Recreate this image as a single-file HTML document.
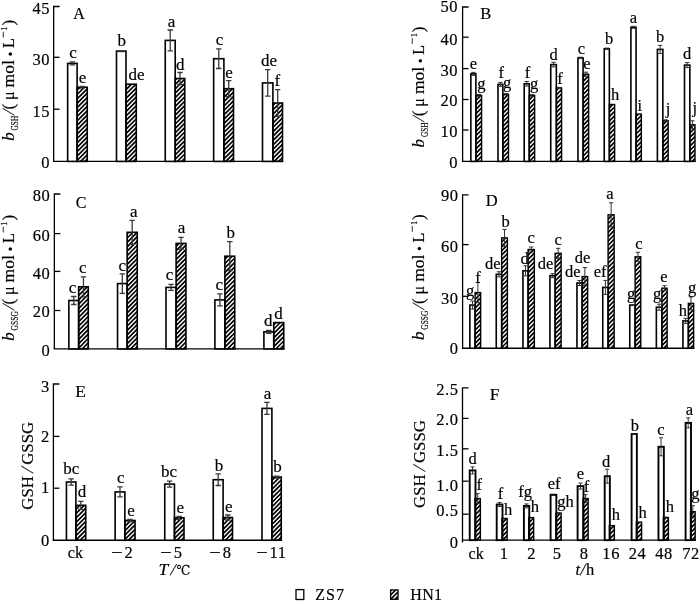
<!DOCTYPE html>
<html><head><meta charset="utf-8"><title>Figure</title>
<style>
html,body{margin:0;padding:0;background:#fff;}
svg{display:block;}
text{font-family:"Liberation Serif", "Noto Serif CJK SC", serif;fill:#000;stroke:#000;stroke-width:0.18px;}
</style></head>
<body>
<svg width="700" height="601" viewBox="0 0 700 601">
<defs><clipPath id="hc"><rect x="77.10" y="87.25" width="10.15" height="74.15"/><rect x="126.00" y="84.20" width="10.25" height="77.20"/><rect x="175.20" y="78.50" width="9.55" height="82.90"/><rect x="223.90" y="88.70" width="9.60" height="72.70"/><rect x="272.90" y="103.00" width="9.60" height="58.40"/><rect x="78.65" y="286.80" width="9.60" height="62.10"/><rect x="127.15" y="232.30" width="10.10" height="116.60"/><rect x="176.10" y="243.40" width="9.85" height="105.50"/><rect x="224.90" y="256.20" width="9.85" height="92.70"/><rect x="273.75" y="322.60" width="10.00" height="26.30"/><rect x="75.90" y="505.30" width="9.85" height="34.95"/><rect x="124.85" y="520.50" width="10.20" height="19.75"/><rect x="174.45" y="517.80" width="9.55" height="22.45"/><rect x="223.10" y="517.50" width="9.40" height="22.75"/><rect x="271.90" y="477.10" width="9.35" height="63.15"/><rect x="475.90" y="95.40" width="5.70" height="66.00"/><rect x="502.85" y="94.30" width="5.65" height="67.10"/><rect x="529.25" y="95.40" width="5.40" height="66.00"/><rect x="556.35" y="87.90" width="5.25" height="73.50"/><rect x="583.10" y="74.20" width="5.55" height="87.20"/><rect x="609.35" y="104.50" width="5.30" height="56.90"/><rect x="636.05" y="114.10" width="5.30" height="47.30"/><rect x="662.85" y="120.80" width="5.30" height="40.60"/><rect x="689.85" y="124.80" width="5.15" height="36.60"/><rect x="475.10" y="292.60" width="5.55" height="55.65"/><rect x="501.65" y="237.90" width="5.75" height="110.35"/><rect x="528.10" y="249.50" width="6.25" height="98.75"/><rect x="555.15" y="253.30" width="6.00" height="94.95"/><rect x="582.10" y="276.60" width="5.55" height="71.65"/><rect x="608.10" y="214.80" width="6.05" height="133.45"/><rect x="635.10" y="256.80" width="5.65" height="91.45"/><rect x="661.85" y="288.20" width="5.30" height="60.05"/><rect x="688.35" y="303.40" width="5.30" height="44.85"/><rect x="475.00" y="498.60" width="5.35" height="41.55"/><rect x="502.00" y="518.50" width="5.15" height="21.65"/><rect x="528.75" y="517.60" width="4.90" height="22.55"/><rect x="555.85" y="513.20" width="5.30" height="26.95"/><rect x="583.00" y="498.60" width="5.15" height="41.55"/><rect x="609.35" y="525.60" width="5.00" height="14.55"/><rect x="636.35" y="522.15" width="5.25" height="18.00"/><rect x="663.35" y="517.60" width="5.05" height="22.55"/><rect x="690.50" y="511.70" width="4.65" height="28.45"/><rect x="390.60" y="589.90" width="7.40" height="9.40"/></clipPath></defs>
<rect width="700" height="601" fill="#fff"/>
<path clip-path="url(#hc)" d="M76.1,86.7L88.2,74.6M76.1,91.1L88.2,79.0M76.1,95.5L88.2,83.4M76.1,99.9L88.2,87.8M76.1,104.3L88.2,92.2M76.1,108.7L88.2,96.6M76.1,113.1L88.2,101.0M76.1,117.5L88.2,105.4M76.1,121.9L88.2,109.8M76.1,126.3L88.2,114.2M76.1,130.7L88.2,118.6M76.1,135.1L88.2,123.0M76.1,139.5L88.2,127.4M76.1,143.9L88.2,131.8M76.1,148.3L88.2,136.2M76.1,152.7L88.2,140.6M76.1,157.1L88.2,145.0M76.1,161.5L88.2,149.4M76.1,165.9L88.2,153.8M76.1,170.3L88.2,158.2M76.1,174.7L88.2,162.6M125.0,81.8L137.2,69.6M125.0,86.2L137.2,74.0M125.0,90.6L137.2,78.4M125.0,95.0L137.2,82.8M125.0,99.4L137.2,87.2M125.0,103.8L137.2,91.6M125.0,108.2L137.2,96.0M125.0,112.6L137.2,100.4M125.0,117.0L137.2,104.8M125.0,121.4L137.2,109.2M125.0,125.8L137.2,113.6M125.0,130.2L137.2,118.0M125.0,134.6L137.2,122.4M125.0,139.0L137.2,126.8M125.0,143.4L137.2,131.2M125.0,147.8L137.2,135.6M125.0,152.2L137.2,139.9M125.0,156.6L137.2,144.3M125.0,161.0L137.2,148.7M125.0,165.4L137.2,153.1M125.0,169.8L137.2,157.5M125.0,174.2L137.2,161.9M174.2,76.6L185.8,65.1M174.2,81.0L185.8,69.5M174.2,85.4L185.8,73.9M174.2,89.8L185.8,78.2M174.2,94.2L185.8,82.6M174.2,98.6L185.8,87.0M174.2,103.0L185.8,91.4M174.2,107.4L185.8,95.8M174.2,111.8L185.8,100.2M174.2,116.2L185.8,104.6M174.2,120.6L185.8,109.0M174.2,125.0L185.8,113.4M174.2,129.4L185.8,117.8M174.2,133.8L185.8,122.2M174.2,138.2L185.8,126.6M174.2,142.6L185.8,131.0M174.2,147.0L185.8,135.4M174.2,151.4L185.8,139.8M174.2,155.8L185.8,144.2M174.2,160.2L185.8,148.6M174.2,164.6L185.8,153.0M174.2,169.0L185.8,157.4M174.2,173.4L185.8,161.8M222.9,89.5L234.5,77.9M222.9,93.9L234.5,82.3M222.9,98.3L234.5,86.7M222.9,102.7L234.5,91.1M222.9,107.1L234.5,95.5M222.9,111.5L234.5,99.9M222.9,115.9L234.5,104.3M222.9,120.3L234.5,108.7M222.9,124.7L234.5,113.1M222.9,129.1L234.5,117.5M222.9,133.5L234.5,121.9M222.9,137.9L234.5,126.3M222.9,142.3L234.5,130.7M222.9,146.7L234.5,135.1M222.9,151.1L234.5,139.5M222.9,155.5L234.5,143.9M222.9,159.9L234.5,148.3M222.9,164.3L234.5,152.7M222.9,168.7L234.5,157.1M222.9,173.1L234.5,161.5M271.9,102.1L283.5,90.5M271.9,106.5L283.5,94.9M271.9,110.9L283.5,99.3M271.9,115.3L283.5,103.7M271.9,119.7L283.5,108.1M271.9,124.1L283.5,112.5M271.9,128.5L283.5,116.9M271.9,132.9L283.5,121.3M271.9,137.3L283.5,125.7M271.9,141.7L283.5,130.1M271.9,146.1L283.5,134.5M271.9,150.5L283.5,138.9M271.9,154.9L283.5,143.3M271.9,159.3L283.5,147.7M271.9,163.7L283.5,152.1M271.9,168.1L283.5,156.5M271.9,172.5L283.5,160.9M77.7,287.6L89.2,276.0M77.7,292.0L89.2,280.4M77.7,296.4L89.2,284.8M77.7,300.8L89.2,289.1M77.7,305.1L89.2,293.5M77.7,309.5L89.2,297.9M77.7,313.9L89.2,302.3M77.7,318.3L89.2,306.7M77.7,322.7L89.2,311.1M77.7,327.1L89.2,315.5M77.7,331.5L89.2,319.9M77.7,335.9L89.2,324.3M77.7,340.3L89.2,328.7M77.7,344.7L89.2,333.1M77.7,349.1L89.2,337.5M77.7,353.5L89.2,341.9M77.7,357.9L89.2,346.3M77.7,362.3L89.2,350.7M126.2,230.3L138.2,218.2M126.2,234.7L138.2,222.6M126.2,239.0L138.2,226.9M126.2,243.4L138.2,231.3M126.2,247.8L138.2,235.7M126.2,252.2L138.2,240.1M126.2,256.6L138.2,244.5M126.2,261.0L138.2,248.9M126.2,265.4L138.2,253.3M126.2,269.8L138.2,257.7M126.2,274.2L138.2,262.1M126.2,278.6L138.2,266.5M126.2,283.0L138.2,270.9M126.2,287.4L138.2,275.3M126.2,291.8L138.2,279.7M126.2,296.2L138.2,284.1M126.2,300.6L138.2,288.5M126.2,305.0L138.2,292.9M126.2,309.4L138.2,297.3M126.2,313.8L138.2,301.7M126.2,318.2L138.2,306.1M126.2,322.6L138.2,310.5M126.2,327.0L138.2,314.9M126.2,331.4L138.2,319.3M126.2,335.8L138.2,323.7M126.2,340.2L138.2,328.1M126.2,344.6L138.2,332.5M126.2,349.0L138.2,336.9M126.2,353.4L138.2,341.3M126.2,357.8L138.2,345.7M126.2,362.2L138.2,350.1M175.1,242.9L186.9,231.1M175.1,247.3L186.9,235.5M175.1,251.7L186.9,239.9M175.1,256.1L186.9,244.2M175.1,260.5L186.9,248.7M175.1,264.9L186.9,253.0M175.1,269.3L186.9,257.4M175.1,273.7L186.9,261.8M175.1,278.1L186.9,266.2M175.1,282.5L186.9,270.6M175.1,286.9L186.9,275.0M175.1,291.3L186.9,279.4M175.1,295.7L186.9,283.8M175.1,300.1L186.9,288.2M175.1,304.5L186.9,292.6M175.1,308.9L186.9,297.0M175.1,313.3L186.9,301.4M175.1,317.7L186.9,305.8M175.1,322.1L186.9,310.2M175.1,326.5L186.9,314.6M175.1,330.9L186.9,319.0M175.1,335.3L186.9,323.4M175.1,339.7L186.9,327.8M175.1,344.1L186.9,332.2M175.1,348.5L186.9,336.6M175.1,352.9L186.9,341.0M175.1,357.3L186.9,345.4M175.1,361.7L186.9,349.8M223.9,255.7L235.8,243.9M223.9,260.1L235.8,248.3M223.9,264.5L235.8,252.7M223.9,268.9L235.8,257.0M223.9,273.3L235.8,261.4M223.9,277.7L235.8,265.8M223.9,282.1L235.8,270.2M223.9,286.5L235.8,274.6M223.9,290.9L235.8,279.0M223.9,295.3L235.8,283.4M223.9,299.7L235.8,287.8M223.9,304.1L235.8,292.2M223.9,308.5L235.8,296.6M223.9,312.9L235.8,301.0M223.9,317.3L235.8,305.4M223.9,321.7L235.8,309.8M223.9,326.1L235.8,314.2M223.9,330.5L235.8,318.6M223.9,334.9L235.8,323.0M223.9,339.3L235.8,327.4M223.9,343.7L235.8,331.8M223.9,348.1L235.8,336.2M223.9,352.5L235.8,340.6M223.9,356.9L235.8,345.0M223.9,361.3L235.8,349.4M272.8,321.2L284.8,309.2M272.8,325.6L284.8,313.6M272.8,330.0L284.8,318.0M272.8,334.4L284.8,322.4M272.8,338.8L284.8,326.8M272.8,343.2L284.8,331.2M272.8,347.6L284.8,335.6M272.8,352.0L284.8,340.0M272.8,356.4L284.8,344.4M272.8,360.8L284.8,348.8M74.9,505.9L86.8,494.1M74.9,510.3L86.8,498.5M74.9,514.7L86.8,502.9M74.9,519.1L86.8,507.2M74.9,523.5L86.8,511.6M74.9,527.9L86.8,516.0M74.9,532.3L86.8,520.4M74.9,536.7L86.8,524.8M74.9,541.1L86.8,529.2M74.9,545.5L86.8,533.6M74.9,549.9L86.8,538.0M74.9,554.3L86.8,542.4M123.8,518.6L136.1,506.4M123.8,523.0L136.1,510.8M123.8,527.4L136.1,515.1M123.8,531.8L136.1,519.5M123.8,536.1L136.1,523.9M123.8,540.5L136.1,528.3M123.8,544.9L136.1,532.7M123.8,549.3L136.1,537.1M123.8,553.7L136.1,541.5M173.4,517.4L185.0,505.8M173.4,521.8L185.0,510.2M173.4,526.2L185.0,514.6M173.4,530.5L185.0,519.0M173.4,535.0L185.0,523.4M173.4,539.3L185.0,527.8M173.4,543.8L185.0,532.2M173.4,548.1L185.0,536.6M173.4,552.5L185.0,541.0M222.1,517.1L233.5,505.7M222.1,521.5L233.5,510.1M222.1,525.9L233.5,514.5M222.1,530.3L233.5,518.9M222.1,534.7L233.5,523.3M222.1,539.1L233.5,527.7M222.1,543.5L233.5,532.1M222.1,547.9L233.5,536.5M222.1,552.3L233.5,540.9M270.9,477.1L282.2,465.8M270.9,481.5L282.2,470.2M270.9,485.9L282.2,474.6M270.9,490.3L282.2,479.0M270.9,494.7L282.2,483.4M270.9,499.1L282.2,487.8M270.9,503.5L282.2,492.1M270.9,507.9L282.2,496.5M270.9,512.3L282.2,500.9M270.9,516.7L282.2,505.3M270.9,521.1L282.2,509.7M270.9,525.5L282.2,514.1M270.9,529.9L282.2,518.5M270.9,534.3L282.2,522.9M270.9,538.7L282.2,527.3M270.9,543.1L282.2,531.7M270.9,547.5L282.2,536.1M270.9,551.9L282.2,540.5M474.9,92.7L482.6,85.0M474.9,97.1L482.6,89.4M474.9,101.5L482.6,93.8M474.9,105.9L482.6,98.2M474.9,110.3L482.6,102.6M474.9,114.7L482.6,107.0M474.9,119.1L482.6,111.4M474.9,123.5L482.6,115.8M474.9,127.9L482.6,120.2M474.9,132.3L482.6,124.6M474.9,136.7L482.6,129.0M474.9,141.1L482.6,133.4M474.9,145.5L482.6,137.8M474.9,149.9L482.6,142.2M474.9,154.3L482.6,146.6M474.9,158.7L482.6,151.0M474.9,163.1L482.6,155.4M474.9,167.5L482.6,159.8M474.9,171.9L482.6,164.2M501.9,92.1L509.5,84.5M501.9,96.5L509.5,88.9M501.9,100.9L509.5,93.3M501.9,105.3L509.5,97.7M501.9,109.7L509.5,102.1M501.9,114.1L509.5,106.5M501.9,118.5L509.5,110.9M501.9,122.9L509.5,115.3M501.9,127.3L509.5,119.7M501.9,131.7L509.5,124.1M501.9,136.1L509.5,128.5M501.9,140.5L509.5,132.9M501.9,144.9L509.5,137.3M501.9,149.3L509.5,141.7M501.9,153.7L509.5,146.1M501.9,158.1L509.5,150.5M501.9,162.5L509.5,154.9M501.9,166.9L509.5,159.3M501.9,171.3L509.5,163.7M528.2,92.2L535.6,84.8M528.2,96.6L535.6,89.2M528.2,101.0L535.6,93.6M528.2,105.4L535.6,98.0M528.2,109.8L535.6,102.4M528.2,114.1L535.6,106.8M528.2,118.5L535.6,111.1M528.2,122.9L535.6,115.5M528.2,127.3L535.6,119.9M528.2,131.7L535.6,124.3M528.2,136.1L535.6,128.7M528.2,140.5L535.6,133.1M528.2,144.9L535.6,137.5M528.2,149.3L535.6,141.9M528.2,153.7L535.6,146.3M528.2,158.1L535.6,150.7M528.2,162.5L535.6,155.1M528.2,166.9L535.6,159.5M528.2,171.3L535.6,163.9M555.4,87.1L562.6,79.8M555.4,91.5L562.6,84.2M555.4,95.9L562.6,88.6M555.4,100.2L562.6,93.0M555.4,104.6L562.6,97.4M555.4,109.0L562.6,101.8M555.4,113.4L562.6,106.2M555.4,117.8L562.6,110.6M555.4,122.2L562.6,115.0M555.4,126.6L562.6,119.4M555.4,131.0L562.6,123.8M555.4,135.4L562.6,128.2M555.4,139.8L562.6,132.6M555.4,144.2L562.6,137.0M555.4,148.6L562.6,141.4M555.4,153.0L562.6,145.8M555.4,157.4L562.6,150.2M555.4,161.8L562.6,154.6M555.4,166.2L562.6,159.0M555.4,170.6L562.6,163.4M582.1,73.5L589.6,66.0M582.1,77.9L589.6,70.4M582.1,82.3L589.6,74.8M582.1,86.7L589.6,79.1M582.1,91.1L589.6,83.5M582.1,95.5L589.6,87.9M582.1,99.9L589.6,92.3M582.1,104.3L589.6,96.7M582.1,108.7L589.6,101.1M582.1,113.1L589.6,105.5M582.1,117.5L589.6,109.9M582.1,121.9L589.6,114.3M582.1,126.3L589.6,118.7M582.1,130.7L589.6,123.1M582.1,135.1L589.6,127.5M582.1,139.5L589.6,131.9M582.1,143.9L589.6,136.3M582.1,148.3L589.6,140.7M582.1,152.7L589.6,145.1M582.1,157.1L589.6,149.5M582.1,161.5L589.6,153.9M582.1,165.9L589.6,158.3M582.1,170.3L589.6,162.7M608.4,104.5L615.6,97.2M608.4,108.9L615.6,101.6M608.4,113.2L615.6,106.0M608.4,117.6L615.6,110.4M608.4,122.0L615.6,114.8M608.4,126.4L615.6,119.1M608.4,130.8L615.6,123.5M608.4,135.2L615.6,127.9M608.4,139.6L615.6,132.3M608.4,144.0L615.6,136.7M608.4,148.4L615.6,141.1M608.4,152.8L615.6,145.5M608.4,157.2L615.6,149.9M608.4,161.6L615.6,154.3M608.4,166.0L615.6,158.7M608.4,170.4L615.6,163.1M635.0,113.0L642.4,105.7M635.0,117.4L642.4,110.1M635.0,121.8L642.4,114.5M635.0,126.2L642.4,118.9M635.0,130.6L642.4,123.2M635.0,135.0L642.4,127.6M635.0,139.4L642.4,132.0M635.0,143.8L642.4,136.4M635.0,148.1L642.4,140.8M635.0,152.5L642.4,145.2M635.0,156.9L642.4,149.6M635.0,161.3L642.4,154.0M635.0,165.7L642.4,158.4M635.0,170.1L642.4,162.8M661.9,121.4L669.1,114.1M661.9,125.8L669.1,118.5M661.9,130.1L669.1,122.9M661.9,134.5L669.1,127.2M661.9,138.9L669.1,131.6M661.9,143.3L669.1,136.0M661.9,147.7L669.1,140.4M661.9,152.1L669.1,144.8M661.9,156.5L669.1,149.2M661.9,160.9L669.1,153.6M661.9,165.3L669.1,158.0M661.9,169.7L669.1,162.4M688.9,125.2L696.0,118.0M688.9,129.6L696.0,122.4M688.9,134.0L696.0,126.8M688.9,138.4L696.0,131.2M688.9,142.8L696.0,135.6M688.9,147.1L696.0,140.0M688.9,151.5L696.0,144.4M688.9,155.9L696.0,148.8M688.9,160.3L696.0,153.2M688.9,164.7L696.0,157.6M688.9,169.1L696.0,162.0M474.1,291.5L481.6,284.0M474.1,295.9L481.6,288.4M474.1,300.3L481.6,292.8M474.1,304.7L481.6,297.1M474.1,309.1L481.6,301.5M474.1,313.5L481.6,305.9M474.1,317.9L481.6,310.3M474.1,322.3L481.6,314.7M474.1,326.7L481.6,319.1M474.1,331.1L481.6,323.5M474.1,335.5L481.6,327.9M474.1,339.9L481.6,332.3M474.1,344.3L481.6,336.7M474.1,348.7L481.6,341.1M474.1,353.1L481.6,345.5M474.1,357.5L481.6,349.9M500.6,238.6L508.4,230.8M500.6,243.0L508.4,235.2M500.6,247.4L508.4,239.6M500.6,251.8L508.4,244.0M500.6,256.1L508.4,248.4M500.6,260.5L508.4,252.8M500.6,264.9L508.4,257.2M500.6,269.3L508.4,261.6M500.6,273.7L508.4,266.0M500.6,278.1L508.4,270.4M500.6,282.5L508.4,274.8M500.6,286.9L508.4,279.2M500.6,291.3L508.4,283.6M500.6,295.7L508.4,288.0M500.6,300.1L508.4,292.4M500.6,304.5L508.4,296.8M500.6,308.9L508.4,301.2M500.6,313.3L508.4,305.6M500.6,317.7L508.4,310.0M500.6,322.1L508.4,314.4M500.6,326.5L508.4,318.8M500.6,330.9L508.4,323.2M500.6,335.3L508.4,327.6M500.6,339.7L508.4,332.0M500.6,344.1L508.4,336.4M500.6,348.5L508.4,340.8M500.6,352.9L508.4,345.2M500.6,357.3L508.4,349.6M527.1,247.3L535.4,239.1M527.1,251.7L535.4,243.5M527.1,256.1L535.4,247.9M527.1,260.5L535.4,252.2M527.1,264.9L535.4,256.6M527.1,269.3L535.4,261.0M527.1,273.7L535.4,265.4M527.1,278.1L535.4,269.8M527.1,282.5L535.4,274.2M527.1,286.9L535.4,278.6M527.1,291.3L535.4,283.0M527.1,295.7L535.4,287.4M527.1,300.1L535.4,291.8M527.1,304.5L535.4,296.2M527.1,308.9L535.4,300.6M527.1,313.3L535.4,305.0M527.1,317.7L535.4,309.4M527.1,322.1L535.4,313.8M527.1,326.5L535.4,318.2M527.1,330.9L535.4,322.6M527.1,335.3L535.4,327.0M527.1,339.7L535.4,331.4M527.1,344.1L535.4,335.8M527.1,348.5L535.4,340.2M527.1,352.9L535.4,344.6M527.1,357.3L535.4,349.0M554.1,251.1L562.1,243.1M554.1,255.5L562.1,247.5M554.1,259.9L562.1,251.9M554.1,264.2L562.1,256.2M554.1,268.6L562.1,260.6M554.1,273.0L562.1,265.0M554.1,277.4L562.1,269.4M554.1,281.8L562.1,273.8M554.1,286.2L562.1,278.2M554.1,290.6L562.1,282.6M554.1,295.0L562.1,287.0M554.1,299.4L562.1,291.4M554.1,303.8L562.1,295.8M554.1,308.2L562.1,300.2M554.1,312.6L562.1,304.6M554.1,317.0L562.1,309.0M554.1,321.4L562.1,313.4M554.1,325.8L562.1,317.8M554.1,330.2L562.1,322.2M554.1,334.6L562.1,326.6M554.1,339.0L562.1,331.0M554.1,343.4L562.1,335.4M554.1,347.8L562.1,339.8M554.1,352.2L562.1,344.2M554.1,356.6L562.1,348.6M581.1,276.9L588.6,269.4M581.1,281.3L588.6,273.8M581.1,285.7L588.6,278.2M581.1,290.1L588.6,282.6M581.1,294.5L588.6,287.0M581.1,298.9L588.6,291.4M581.1,303.3L588.6,295.8M581.1,307.7L588.6,300.1M581.1,312.1L588.6,304.5M581.1,316.5L588.6,308.9M581.1,320.9L588.6,313.3M581.1,325.3L588.6,317.7M581.1,329.7L588.6,322.1M581.1,334.1L588.6,326.5M581.1,338.5L588.6,330.9M581.1,342.9L588.6,335.3M581.1,347.3L588.6,339.7M581.1,351.7L588.6,344.1M581.1,356.1L588.6,348.5M607.1,215.7L615.1,207.7M607.1,220.1L615.1,212.1M607.1,224.5L615.1,216.5M607.1,228.9L615.1,220.9M607.1,233.3L615.1,225.2M607.1,237.7L615.1,229.6M607.1,242.1L615.1,234.0M607.1,246.5L615.1,238.4M607.1,250.9L615.1,242.8M607.1,255.3L615.1,247.2M607.1,259.7L615.1,251.6M607.1,264.1L615.1,256.0M607.1,268.5L615.1,260.4M607.1,272.9L615.1,264.8M607.1,277.3L615.1,269.2M607.1,281.7L615.1,273.6M607.1,286.1L615.1,278.0M607.1,290.5L615.1,282.4M607.1,294.9L615.1,286.8M607.1,299.3L615.1,291.2M607.1,303.7L615.1,295.6M607.1,308.1L615.1,300.0M607.1,312.5L615.1,304.4M607.1,316.9L615.1,308.8M607.1,321.3L615.1,313.2M607.1,325.7L615.1,317.6M607.1,330.1L615.1,322.0M607.1,334.5L615.1,326.4M607.1,338.9L615.1,330.8M607.1,343.3L615.1,335.2M607.1,347.7L615.1,339.6M607.1,352.1L615.1,344.0M607.1,356.5L615.1,348.4M634.1,254.7L641.8,247.1M634.1,259.1L641.8,251.5M634.1,263.5L641.8,255.9M634.1,267.9L641.8,260.2M634.1,272.3L641.8,264.6M634.1,276.7L641.8,269.0M634.1,281.1L641.8,273.4M634.1,285.5L641.8,277.8M634.1,289.9L641.8,282.2M634.1,294.3L641.8,286.6M634.1,298.7L641.8,291.0M634.1,303.1L641.8,295.4M634.1,307.5L641.8,299.8M634.1,311.9L641.8,304.2M634.1,316.3L641.8,308.6M634.1,320.7L641.8,313.0M634.1,325.1L641.8,317.4M634.1,329.5L641.8,321.8M634.1,333.9L641.8,326.2M634.1,338.3L641.8,330.6M634.1,342.7L641.8,335.0M634.1,347.1L641.8,339.4M634.1,351.5L641.8,343.8M634.1,355.9L641.8,348.2M660.9,285.2L668.1,277.9M660.9,289.6L668.1,282.3M660.9,294.0L668.1,286.7M660.9,298.4L668.1,291.1M660.9,302.8L668.1,295.5M660.9,307.1L668.1,299.9M660.9,311.5L668.1,304.2M660.9,315.9L668.1,308.6M660.9,320.3L668.1,313.0M660.9,324.7L668.1,317.4M660.9,329.1L668.1,321.8M660.9,333.5L668.1,326.2M660.9,337.9L668.1,330.6M660.9,342.3L668.1,335.0M660.9,346.7L668.1,339.4M660.9,351.1L668.1,343.8M660.9,355.5L668.1,348.2M687.4,302.7L694.6,295.4M687.4,307.1L694.6,299.8M687.4,311.5L694.6,304.2M687.4,315.9L694.6,308.6M687.4,320.2L694.6,313.0M687.4,324.6L694.6,317.4M687.4,329.0L694.6,321.8M687.4,333.4L694.6,326.1M687.4,337.9L694.6,330.6M687.4,342.3L694.6,335.0M687.4,346.7L694.6,339.4M687.4,351.1L694.6,343.8M687.4,355.5L694.6,348.2M474.0,498.4L481.4,491.1M474.0,502.8L481.4,495.5M474.0,507.2L481.4,499.9M474.0,511.6L481.4,504.2M474.0,516.0L481.4,508.6M474.0,520.4L481.4,513.0M474.0,524.8L481.4,517.4M474.0,529.2L481.4,521.8M474.0,533.6L481.4,526.2M474.0,538.0L481.4,530.6M474.0,542.4L481.4,535.0M474.0,546.8L481.4,539.4M501.0,515.4L508.1,508.3M501.0,519.8L508.1,512.7M501.0,524.2L508.1,517.1M501.0,528.6L508.1,521.5M501.0,533.0L508.1,525.9M501.0,537.4L508.1,530.3M501.0,541.8L508.1,534.7M501.0,546.2L508.1,539.1M501.0,550.6L508.1,543.5M527.8,515.1L534.6,508.2M527.8,519.5L534.6,512.6M527.8,523.9L534.6,517.0M527.8,528.3L534.6,521.4M527.8,532.7L534.6,525.8M527.8,537.1L534.6,530.2M527.8,541.5L534.6,534.6M527.8,545.9L534.6,539.0M527.8,550.3L534.6,543.4M554.9,510.0L562.1,502.7M554.9,514.4L562.1,507.1M554.9,518.8L562.1,511.5M554.9,523.2L562.1,515.9M554.9,527.6L562.1,520.3M554.9,532.0L562.1,524.7M554.9,536.4L562.1,529.1M554.9,540.8L562.1,533.5M554.9,545.2L562.1,537.9M554.9,549.6L562.1,542.3M582.0,496.0L589.1,488.9M582.0,500.4L589.1,493.3M582.0,504.8L589.1,497.7M582.0,509.2L589.1,502.1M582.0,513.6L589.1,506.5M582.0,518.0L589.1,510.9M582.0,522.4L589.1,515.3M582.0,526.8L589.1,519.7M582.0,531.2L589.1,524.1M582.0,535.6L589.1,528.5M582.0,540.0L589.1,532.9M582.0,544.4L589.1,537.3M582.0,548.8L589.1,541.7M608.4,522.5L615.4,515.5M608.4,526.9L615.4,519.9M608.4,531.3L615.4,524.3M608.4,535.7L615.4,528.7M608.4,540.1L615.4,533.1M608.4,544.5L615.4,537.5M608.4,548.9L615.4,541.9M635.4,521.9L642.6,514.6M635.4,526.3L642.6,519.0M635.4,530.7L642.6,523.4M635.4,535.1L642.6,527.8M635.4,539.5L642.6,532.2M635.4,543.9L642.6,536.6M635.4,548.3L642.6,541.0M662.4,516.9L669.4,509.8M662.4,521.3L669.4,514.2M662.4,525.7L669.4,518.6M662.4,530.1L669.4,523.0M662.4,534.5L669.4,527.4M662.4,538.9L669.4,531.8M662.4,543.3L669.4,536.2M662.4,547.7L669.4,540.6M689.5,511.7L696.1,505.1M689.5,516.1L696.1,509.5M689.5,520.5L696.1,513.9M689.5,524.9L696.1,518.3M689.5,529.3L696.1,522.7M689.5,533.7L696.1,527.1M689.5,538.1L696.1,531.5M689.5,542.5L696.1,535.9M689.5,546.9L696.1,540.3M389.6,587.2L399.0,577.8M389.6,591.6L399.0,582.2M389.6,596.0L399.0,586.6M389.6,600.4L399.0,591.0M389.6,604.8L399.0,595.4M389.6,609.2L399.0,599.8" stroke="#000" stroke-width="1.7" fill="none"/>
<path d="M59.65,6.5 H53.65 V161.4" fill="none" stroke="#000" stroke-width="1.3"/>
<path d="M53.0,161.4 H283.15" fill="none" stroke="#000" stroke-width="1.3"/>
<path d="M53.65,57.3 h6" stroke="#000" stroke-width="1.3"/>
<path d="M53.65,109.2 h6" stroke="#000" stroke-width="1.3"/>
<text x="50.15" y="13.8" font-size="16.5" text-anchor="end" letter-spacing="0.6">45</text>
<text x="50.15" y="64.6" font-size="16.5" text-anchor="end" letter-spacing="0.6">30</text>
<text x="50.15" y="116.5" font-size="16.5" text-anchor="end" letter-spacing="0.6">15</text>
<text x="50.15" y="167.9" font-size="16.5" text-anchor="end" letter-spacing="0.6">0</text>
<text x="73.3" y="19" font-size="16">A</text>
<rect x="67.65" y="63.40" width="9.45" height="98.00" fill="#fff" stroke="#000" stroke-width="1.6"/>
<rect x="77.10" y="87.25" width="10.15" height="74.15" fill="none" stroke="#000" stroke-width="1.6"/>
<path d="M72.38,61.90 V64.90 M69.67,61.90 h5.40 M69.67,64.90 h5.40" stroke="#3a3a3a" stroke-width="1.3" fill="none"/>
<path d="M82.17,86.45 V88.05 M79.47,86.45 h5.40 M79.47,88.05 h5.40" stroke="#3a3a3a" stroke-width="1.3" fill="none"/>
<text x="73.0" y="58.4" font-size="17" text-anchor="middle">c</text>
<text x="82.4" y="83.4" font-size="17" text-anchor="middle">e</text>
<rect x="116.50" y="51.10" width="9.50" height="110.30" fill="#fff" stroke="#000" stroke-width="1.6"/>
<rect x="126.00" y="84.20" width="10.25" height="77.20" fill="none" stroke="#000" stroke-width="1.6"/>
<path d="M121.25,50.60 V51.60 M118.55,50.60 h5.40 M118.55,51.60 h5.40" stroke="#3a3a3a" stroke-width="1.3" fill="none"/>
<text x="121.8" y="45.6" font-size="17" text-anchor="middle">b</text>
<text x="136.4" y="79.9" font-size="17" text-anchor="middle">de</text>
<rect x="165.25" y="40.40" width="9.95" height="121.00" fill="#fff" stroke="#000" stroke-width="1.6"/>
<rect x="175.20" y="78.50" width="9.55" height="82.90" fill="none" stroke="#000" stroke-width="1.6"/>
<path d="M170.22,30.00 V50.80 M167.53,30.00 h5.40 M167.53,50.80 h5.40" stroke="#3a3a3a" stroke-width="1.3" fill="none"/>
<path d="M179.97,72.50 V84.50 M177.28,72.50 h5.40 M177.28,84.50 h5.40" stroke="#3a3a3a" stroke-width="1.3" fill="none"/>
<text x="171.5" y="27.0" font-size="17" text-anchor="middle">a</text>
<text x="180.3" y="70.0" font-size="17" text-anchor="middle">d</text>
<rect x="213.65" y="58.70" width="10.25" height="102.70" fill="#fff" stroke="#000" stroke-width="1.6"/>
<rect x="223.90" y="88.70" width="9.60" height="72.70" fill="none" stroke="#000" stroke-width="1.6"/>
<path d="M218.78,48.90 V68.50 M216.08,48.90 h5.40 M216.08,68.50 h5.40" stroke="#3a3a3a" stroke-width="1.3" fill="none"/>
<path d="M228.70,80.70 V96.70 M226.00,80.70 h5.40 M226.00,96.70 h5.40" stroke="#3a3a3a" stroke-width="1.3" fill="none"/>
<text x="219.5" y="45.0" font-size="17" text-anchor="middle">c</text>
<text x="229.0" y="78.0" font-size="17" text-anchor="middle">e</text>
<rect x="262.50" y="82.90" width="10.40" height="78.50" fill="#fff" stroke="#000" stroke-width="1.6"/>
<rect x="272.90" y="103.00" width="9.60" height="58.40" fill="none" stroke="#000" stroke-width="1.6"/>
<path d="M267.70,69.60 V96.20 M265.00,69.60 h5.40 M265.00,96.20 h5.40" stroke="#3a3a3a" stroke-width="1.3" fill="none"/>
<path d="M277.70,89.70 V116.30 M275.00,89.70 h5.40 M275.00,116.30 h5.40" stroke="#3a3a3a" stroke-width="1.3" fill="none"/>
<text x="269.0" y="66.0" font-size="17" text-anchor="middle">de</text>
<text x="277.3" y="86.0" font-size="17" text-anchor="middle">f</text>
<path d="M60.35,194 H54.35 V348.9" fill="none" stroke="#000" stroke-width="1.3"/>
<path d="M53.7,348.9 H284.4" fill="none" stroke="#000" stroke-width="1.3"/>
<path d="M54.35,233.6 h6" stroke="#000" stroke-width="1.3"/>
<path d="M54.35,271.4 h6" stroke="#000" stroke-width="1.3"/>
<path d="M54.35,310.5 h6" stroke="#000" stroke-width="1.3"/>
<text x="50.35" y="201.3" font-size="16.5" text-anchor="end" letter-spacing="0.6">80</text>
<text x="50.35" y="240.9" font-size="16.5" text-anchor="end" letter-spacing="0.6">60</text>
<text x="50.35" y="278.7" font-size="16.5" text-anchor="end" letter-spacing="0.6">40</text>
<text x="50.35" y="317.0" font-size="16.5" text-anchor="end" letter-spacing="0.6">20</text>
<text x="50.35" y="356.2" font-size="16.5" text-anchor="end" letter-spacing="0.6">0</text>
<text x="75.8" y="207.8" font-size="16">C</text>
<rect x="68.85" y="300.50" width="9.80" height="48.40" fill="#fff" stroke="#000" stroke-width="1.6"/>
<rect x="78.65" y="286.80" width="9.60" height="62.10" fill="none" stroke="#000" stroke-width="1.6"/>
<path d="M73.75,296.50 V304.50 M71.05,296.50 h5.40 M71.05,304.50 h5.40" stroke="#3a3a3a" stroke-width="1.3" fill="none"/>
<path d="M83.45,276.80 V296.80 M80.75,276.80 h5.40 M80.75,296.80 h5.40" stroke="#3a3a3a" stroke-width="1.3" fill="none"/>
<text x="72.5" y="293.0" font-size="17" text-anchor="middle">c</text>
<text x="82.7" y="273.3" font-size="17" text-anchor="middle">c</text>
<rect x="117.55" y="283.60" width="9.60" height="65.30" fill="#fff" stroke="#000" stroke-width="1.6"/>
<rect x="127.15" y="232.30" width="10.10" height="116.60" fill="none" stroke="#000" stroke-width="1.6"/>
<path d="M122.35,273.80 V293.40 M119.65,273.80 h5.40 M119.65,293.40 h5.40" stroke="#3a3a3a" stroke-width="1.3" fill="none"/>
<path d="M132.20,220.30 V244.30 M129.50,220.30 h5.40 M129.50,244.30 h5.40" stroke="#3a3a3a" stroke-width="1.3" fill="none"/>
<text x="122.3" y="271.3" font-size="17" text-anchor="middle">c</text>
<text x="133.7" y="216.8" font-size="17" text-anchor="middle">a</text>
<rect x="166.00" y="287.40" width="10.10" height="61.50" fill="#fff" stroke="#000" stroke-width="1.6"/>
<rect x="176.10" y="243.40" width="9.85" height="105.50" fill="none" stroke="#000" stroke-width="1.6"/>
<path d="M171.05,284.40 V290.40 M168.35,284.40 h5.40 M168.35,290.40 h5.40" stroke="#3a3a3a" stroke-width="1.3" fill="none"/>
<path d="M181.02,237.40 V249.40 M178.32,237.40 h5.40 M178.32,249.40 h5.40" stroke="#3a3a3a" stroke-width="1.3" fill="none"/>
<text x="169.6" y="280.3" font-size="17" text-anchor="middle">c</text>
<text x="181.5" y="233.3" font-size="17" text-anchor="middle">a</text>
<rect x="214.90" y="299.90" width="10.00" height="49.00" fill="#fff" stroke="#000" stroke-width="1.6"/>
<rect x="224.90" y="256.20" width="9.85" height="92.70" fill="none" stroke="#000" stroke-width="1.6"/>
<path d="M219.90,293.90 V305.90 M217.20,293.90 h5.40 M217.20,305.90 h5.40" stroke="#3a3a3a" stroke-width="1.3" fill="none"/>
<path d="M229.82,241.70 V270.70 M227.12,241.70 h5.40 M227.12,270.70 h5.40" stroke="#3a3a3a" stroke-width="1.3" fill="none"/>
<text x="219.3" y="290.0" font-size="17" text-anchor="middle">c</text>
<text x="230.8" y="238.4" font-size="17" text-anchor="middle">b</text>
<rect x="263.90" y="331.85" width="9.85" height="17.05" fill="#fff" stroke="#000" stroke-width="1.6"/>
<rect x="273.75" y="322.60" width="10.00" height="26.30" fill="none" stroke="#000" stroke-width="1.6"/>
<path d="M268.82,330.35 V333.35 M266.12,330.35 h5.40 M266.12,333.35 h5.40" stroke="#3a3a3a" stroke-width="1.3" fill="none"/>
<text x="268.2" y="326.2" font-size="17" text-anchor="middle">d</text>
<text x="278.6" y="318.5" font-size="17" text-anchor="middle">d</text>
<path d="M59.4,384 H53.4 V540.25" fill="none" stroke="#000" stroke-width="1.3"/>
<path d="M52.75,540.25 H281.9" fill="none" stroke="#000" stroke-width="1.3"/>
<path d="M53.4,436.4 h6" stroke="#000" stroke-width="1.3"/>
<path d="M53.4,488.2 h6" stroke="#000" stroke-width="1.3"/>
<text x="49.9" y="392.3" font-size="16.5" text-anchor="end" letter-spacing="0.6">3</text>
<text x="49.9" y="442.4" font-size="16.5" text-anchor="end" letter-spacing="0.6">2</text>
<text x="49.9" y="493.2" font-size="16.5" text-anchor="end" letter-spacing="0.6">1</text>
<text x="49.9" y="545.8" font-size="16.5" text-anchor="end" letter-spacing="0.6">0</text>
<text x="75.2" y="397" font-size="17.5">E</text>
<rect x="66.45" y="482.00" width="9.45" height="58.25" fill="#fff" stroke="#000" stroke-width="1.6"/>
<rect x="75.90" y="505.30" width="9.85" height="34.95" fill="none" stroke="#000" stroke-width="1.6"/>
<path d="M71.18,478.80 V485.20 M68.48,478.80 h5.40 M68.48,485.20 h5.40" stroke="#3a3a3a" stroke-width="1.3" fill="none"/>
<path d="M80.83,501.30 V509.30 M78.12,501.30 h5.40 M78.12,509.30 h5.40" stroke="#3a3a3a" stroke-width="1.3" fill="none"/>
<text x="71.2" y="474.1" font-size="17" text-anchor="middle">bc</text>
<text x="82.1" y="497.3" font-size="17" text-anchor="middle">d</text>
<rect x="115.15" y="491.90" width="9.70" height="48.35" fill="#fff" stroke="#000" stroke-width="1.6"/>
<rect x="124.85" y="520.50" width="10.20" height="19.75" fill="none" stroke="#000" stroke-width="1.6"/>
<path d="M120.00,486.90 V496.90 M117.30,486.90 h5.40 M117.30,496.90 h5.40" stroke="#3a3a3a" stroke-width="1.3" fill="none"/>
<path d="M129.95,519.50 V521.50 M127.25,519.50 h5.40 M127.25,521.50 h5.40" stroke="#3a3a3a" stroke-width="1.3" fill="none"/>
<text x="120.7" y="482.9" font-size="17" text-anchor="middle">c</text>
<text x="130.9" y="516.0" font-size="17" text-anchor="middle">e</text>
<rect x="164.75" y="484.10" width="9.70" height="56.15" fill="#fff" stroke="#000" stroke-width="1.6"/>
<rect x="174.45" y="517.80" width="9.55" height="22.45" fill="none" stroke="#000" stroke-width="1.6"/>
<path d="M169.60,481.10 V487.10 M166.90,481.10 h5.40 M166.90,487.10 h5.40" stroke="#3a3a3a" stroke-width="1.3" fill="none"/>
<path d="M179.22,516.30 V519.30 M176.53,516.30 h5.40 M176.53,519.30 h5.40" stroke="#3a3a3a" stroke-width="1.3" fill="none"/>
<text x="168.9" y="477.4" font-size="17" text-anchor="middle">bc</text>
<text x="180.2" y="513.1" font-size="17" text-anchor="middle">e</text>
<rect x="213.25" y="479.70" width="9.85" height="60.55" fill="#fff" stroke="#000" stroke-width="1.6"/>
<rect x="223.10" y="517.50" width="9.40" height="22.75" fill="none" stroke="#000" stroke-width="1.6"/>
<path d="M218.18,473.90 V485.50 M215.48,473.90 h5.40 M215.48,485.50 h5.40" stroke="#3a3a3a" stroke-width="1.3" fill="none"/>
<path d="M227.80,515.00 V520.00 M225.10,515.00 h5.40 M225.10,520.00 h5.40" stroke="#3a3a3a" stroke-width="1.3" fill="none"/>
<text x="218.9" y="471.4" font-size="17" text-anchor="middle">b</text>
<text x="228.8" y="512.0" font-size="17" text-anchor="middle">e</text>
<rect x="262.00" y="408.40" width="9.90" height="131.85" fill="#fff" stroke="#000" stroke-width="1.6"/>
<rect x="271.90" y="477.10" width="9.35" height="63.15" fill="none" stroke="#000" stroke-width="1.6"/>
<path d="M266.95,402.40 V414.40 M264.25,402.40 h5.40 M264.25,414.40 h5.40" stroke="#3a3a3a" stroke-width="1.3" fill="none"/>
<path d="M276.57,476.10 V478.10 M273.88,476.10 h5.40 M273.88,478.10 h5.40" stroke="#3a3a3a" stroke-width="1.3" fill="none"/>
<text x="267.6" y="398.7" font-size="17" text-anchor="middle">a</text>
<text x="277.6" y="471.9" font-size="17" text-anchor="middle">b</text>
<path d="M468.6,7.0 H462.6 V161.4" fill="none" stroke="#000" stroke-width="1.3"/>
<path d="M461.95000000000005,161.4 H695.65" fill="none" stroke="#000" stroke-width="1.3"/>
<path d="M462.6,37.2 h6" stroke="#000" stroke-width="1.3"/>
<path d="M462.6,68.6 h6" stroke="#000" stroke-width="1.3"/>
<path d="M462.6,99.5 h6" stroke="#000" stroke-width="1.3"/>
<path d="M462.6,130.0 h6" stroke="#000" stroke-width="1.3"/>
<text x="458.1" y="11.9" font-size="16.5" text-anchor="end" letter-spacing="0.6">50</text>
<text x="458.1" y="44.6" font-size="16.5" text-anchor="end" letter-spacing="0.6">40</text>
<text x="458.1" y="76.0" font-size="16.5" text-anchor="end" letter-spacing="0.6">30</text>
<text x="458.1" y="105.6" font-size="16.5" text-anchor="end" letter-spacing="0.6">20</text>
<text x="458.1" y="137.3" font-size="16.5" text-anchor="end" letter-spacing="0.6">10</text>
<text x="458.1" y="168.2" font-size="16.5" text-anchor="end" letter-spacing="0.6">0</text>
<text x="480.3" y="19" font-size="16.5">B</text>
<rect x="470.85" y="73.90" width="5.05" height="87.50" fill="#fff" stroke="#000" stroke-width="1.6"/>
<rect x="475.90" y="95.40" width="5.70" height="66.00" fill="none" stroke="#000" stroke-width="1.4"/>
<path d="M473.38,72.40 V75.40 M471.18,72.40 h4.40 M471.18,75.40 h4.40" stroke="#333" stroke-width="1.0" fill="none"/>
<path d="M478.75,94.40 V96.40 M476.55,94.40 h4.40 M476.55,96.40 h4.40" stroke="#333" stroke-width="1.0" fill="none"/>
<text x="473.4" y="68.9" font-size="16.5" text-anchor="middle">e</text>
<text x="481.4" y="89.4" font-size="16.5" text-anchor="middle">g</text>
<rect x="498.00" y="84.40" width="4.85" height="77.00" fill="#fff" stroke="#000" stroke-width="1.6"/>
<rect x="502.85" y="94.30" width="5.65" height="67.10" fill="none" stroke="#000" stroke-width="1.4"/>
<path d="M500.43,82.40 V86.40 M498.23,82.40 h4.40 M498.23,86.40 h4.40" stroke="#333" stroke-width="1.0" fill="none"/>
<path d="M505.68,93.50 V95.10 M503.48,93.50 h4.40 M503.48,95.10 h4.40" stroke="#333" stroke-width="1.0" fill="none"/>
<text x="501.2" y="78.4" font-size="16.5" text-anchor="middle">f</text>
<text x="507.2" y="87.5" font-size="16.5" text-anchor="middle">g</text>
<rect x="524.20" y="83.80" width="5.05" height="77.60" fill="#fff" stroke="#000" stroke-width="1.6"/>
<rect x="529.25" y="95.40" width="5.40" height="66.00" fill="none" stroke="#000" stroke-width="1.4"/>
<path d="M526.73,81.50 V86.10 M524.52,81.50 h4.40 M524.52,86.10 h4.40" stroke="#333" stroke-width="1.0" fill="none"/>
<path d="M531.95,94.60 V96.20 M529.75,94.60 h4.40 M529.75,96.20 h4.40" stroke="#333" stroke-width="1.0" fill="none"/>
<text x="527.5" y="78.0" font-size="16.5" text-anchor="middle">f</text>
<text x="534.2" y="88.9" font-size="16.5" text-anchor="middle">g</text>
<rect x="550.75" y="64.60" width="5.60" height="96.80" fill="#fff" stroke="#000" stroke-width="1.6"/>
<rect x="556.35" y="87.90" width="5.25" height="73.50" fill="none" stroke="#000" stroke-width="1.4"/>
<path d="M553.55,62.30 V66.90 M551.35,62.30 h4.40 M551.35,66.90 h4.40" stroke="#333" stroke-width="1.0" fill="none"/>
<path d="M558.98,87.40 V88.40 M556.77,87.40 h4.40 M556.77,88.40 h4.40" stroke="#333" stroke-width="1.0" fill="none"/>
<text x="553.5" y="59.8" font-size="16.5" text-anchor="middle">d</text>
<text x="560.0" y="83.9" font-size="16.5" text-anchor="middle">f</text>
<rect x="577.95" y="57.90" width="5.15" height="103.50" fill="#fff" stroke="#000" stroke-width="1.6"/>
<rect x="583.10" y="74.20" width="5.55" height="87.20" fill="none" stroke="#000" stroke-width="1.4"/>
<path d="M580.53,57.20 V58.60 M578.33,57.20 h4.40 M578.33,58.60 h4.40" stroke="#333" stroke-width="1.0" fill="none"/>
<path d="M585.88,72.20 V76.20 M583.67,72.20 h4.40 M583.67,76.20 h4.40" stroke="#333" stroke-width="1.0" fill="none"/>
<text x="581.5" y="53.7" font-size="16.5" text-anchor="middle">c</text>
<text x="586.9" y="68.7" font-size="16.5" text-anchor="middle">e</text>
<rect x="604.25" y="48.80" width="5.10" height="112.60" fill="#fff" stroke="#000" stroke-width="1.6"/>
<rect x="609.35" y="104.50" width="5.30" height="56.90" fill="none" stroke="#000" stroke-width="1.4"/>
<path d="M606.80,48.10 V49.50 M604.60,48.10 h4.40 M604.60,49.50 h4.40" stroke="#333" stroke-width="1.0" fill="none"/>
<text x="609.0" y="43.6" font-size="16.5" text-anchor="middle">b</text>
<text x="615.2" y="100.0" font-size="16.5" text-anchor="middle">h</text>
<rect x="630.90" y="27.30" width="5.15" height="134.10" fill="#fff" stroke="#000" stroke-width="1.6"/>
<rect x="636.05" y="114.10" width="5.30" height="47.30" fill="none" stroke="#000" stroke-width="1.4"/>
<path d="M633.47,26.30 V28.30 M631.27,26.30 h4.40 M631.27,28.30 h4.40" stroke="#333" stroke-width="1.0" fill="none"/>
<text x="633.5" y="23.3" font-size="16.5" text-anchor="middle">a</text>
<text x="639.7" y="111.1" font-size="16.5" text-anchor="middle">i</text>
<rect x="657.40" y="49.40" width="5.45" height="112.00" fill="#fff" stroke="#000" stroke-width="1.6"/>
<rect x="662.85" y="120.80" width="5.30" height="40.60" fill="none" stroke="#000" stroke-width="1.4"/>
<path d="M660.12,45.40 V53.40 M657.92,45.40 h4.40 M657.92,53.40 h4.40" stroke="#333" stroke-width="1.0" fill="none"/>
<path d="M665.50,119.80 V121.80 M663.30,119.80 h4.40 M663.30,121.80 h4.40" stroke="#333" stroke-width="1.0" fill="none"/>
<text x="660.1" y="41.9" font-size="16.5" text-anchor="middle">b</text>
<text x="668.0" y="113.8" font-size="16.5" text-anchor="middle">j</text>
<rect x="684.50" y="65.10" width="5.35" height="96.30" fill="#fff" stroke="#000" stroke-width="1.6"/>
<rect x="689.85" y="124.80" width="5.15" height="36.60" fill="none" stroke="#000" stroke-width="1.4"/>
<path d="M687.17,62.60 V67.60 M684.97,62.60 h4.40 M684.97,67.60 h4.40" stroke="#333" stroke-width="1.0" fill="none"/>
<path d="M692.42,120.80 V128.80 M690.22,120.80 h4.40 M690.22,128.80 h4.40" stroke="#333" stroke-width="1.0" fill="none"/>
<text x="687.2" y="59.1" font-size="16.5" text-anchor="middle">d</text>
<text x="694.7" y="112.9" font-size="16.5" text-anchor="middle">j</text>
<path d="M468.6,194.8 H462.6 V348.25" fill="none" stroke="#000" stroke-width="1.3"/>
<path d="M461.95000000000005,348.25 H694.3" fill="none" stroke="#000" stroke-width="1.3"/>
<path d="M462.6,244.6 h6" stroke="#000" stroke-width="1.3"/>
<path d="M462.6,296.3 h6" stroke="#000" stroke-width="1.3"/>
<text x="458.6" y="201.3" font-size="16.5" text-anchor="end" letter-spacing="0.6">90</text>
<text x="458.6" y="251.9" font-size="16.5" text-anchor="end" letter-spacing="0.6">60</text>
<text x="458.6" y="303.8" font-size="16.5" text-anchor="end" letter-spacing="0.6">30</text>
<text x="458.6" y="354.2" font-size="16.5" text-anchor="end" letter-spacing="0.6">0</text>
<text x="485.8" y="206" font-size="16.5">D</text>
<rect x="469.85" y="305.10" width="5.25" height="43.15" fill="#fff" stroke="#000" stroke-width="1.6"/>
<rect x="475.10" y="292.60" width="5.55" height="55.65" fill="none" stroke="#000" stroke-width="1.4"/>
<path d="M472.48,301.10 V309.10 M470.28,301.10 h4.40 M470.28,309.10 h4.40" stroke="#333" stroke-width="1.0" fill="none"/>
<path d="M477.88,282.60 V302.60 M475.68,282.60 h4.40 M475.68,302.60 h4.40" stroke="#333" stroke-width="1.0" fill="none"/>
<text x="470.0" y="296.1" font-size="16.5" text-anchor="middle">g</text>
<text x="478.1" y="282.6" font-size="16.5" text-anchor="middle">f</text>
<rect x="496.25" y="274.30" width="5.40" height="73.95" fill="#fff" stroke="#000" stroke-width="1.6"/>
<rect x="501.65" y="237.90" width="5.75" height="110.35" fill="none" stroke="#000" stroke-width="1.4"/>
<path d="M498.95,271.80 V276.80 M496.75,271.80 h4.40 M496.75,276.80 h4.40" stroke="#333" stroke-width="1.0" fill="none"/>
<path d="M504.52,229.40 V246.40 M502.32,229.40 h4.40 M502.32,246.40 h4.40" stroke="#333" stroke-width="1.0" fill="none"/>
<text x="492.9" y="269.3" font-size="16.5" text-anchor="middle">de</text>
<text x="505.5" y="227.4" font-size="16.5" text-anchor="middle">b</text>
<rect x="522.95" y="270.80" width="5.15" height="77.45" fill="#fff" stroke="#000" stroke-width="1.6"/>
<rect x="528.10" y="249.50" width="6.25" height="98.75" fill="none" stroke="#000" stroke-width="1.4"/>
<path d="M525.53,265.80 V275.80 M523.33,265.80 h4.40 M523.33,275.80 h4.40" stroke="#333" stroke-width="1.0" fill="none"/>
<path d="M531.23,247.00 V252.00 M529.02,247.00 h4.40 M529.02,252.00 h4.40" stroke="#333" stroke-width="1.0" fill="none"/>
<text x="524.5" y="263.8" font-size="16.5" text-anchor="middle">d</text>
<text x="531.2" y="242.9" font-size="16.5" text-anchor="middle">c</text>
<rect x="549.95" y="275.70" width="5.20" height="72.55" fill="#fff" stroke="#000" stroke-width="1.6"/>
<rect x="555.15" y="253.30" width="6.00" height="94.95" fill="none" stroke="#000" stroke-width="1.4"/>
<path d="M552.55,273.70 V277.70 M550.35,273.70 h4.40 M550.35,277.70 h4.40" stroke="#333" stroke-width="1.0" fill="none"/>
<path d="M558.15,248.30 V258.30 M555.95,248.30 h4.40 M555.95,258.30 h4.40" stroke="#333" stroke-width="1.0" fill="none"/>
<text x="545.5" y="269.2" font-size="16.5" text-anchor="middle">de</text>
<text x="558.1" y="244.8" font-size="16.5" text-anchor="middle">c</text>
<rect x="576.95" y="283.00" width="5.15" height="65.25" fill="#fff" stroke="#000" stroke-width="1.6"/>
<rect x="582.10" y="276.60" width="5.55" height="71.65" fill="none" stroke="#000" stroke-width="1.4"/>
<path d="M579.53,280.50 V285.50 M577.33,280.50 h4.40 M577.33,285.50 h4.40" stroke="#333" stroke-width="1.0" fill="none"/>
<path d="M584.88,267.60 V285.60 M582.67,267.60 h4.40 M582.67,285.60 h4.40" stroke="#333" stroke-width="1.0" fill="none"/>
<text x="572.9" y="277.0" font-size="16.5" text-anchor="middle">de</text>
<text x="582.6" y="263.1" font-size="16.5" text-anchor="middle">de</text>
<rect x="602.75" y="287.40" width="5.35" height="60.85" fill="#fff" stroke="#000" stroke-width="1.6"/>
<rect x="608.10" y="214.80" width="6.05" height="133.45" fill="none" stroke="#000" stroke-width="1.4"/>
<path d="M605.42,280.40 V294.40 M603.22,280.40 h4.40 M603.22,294.40 h4.40" stroke="#333" stroke-width="1.0" fill="none"/>
<path d="M611.12,202.80 V226.80 M608.92,202.80 h4.40 M608.92,226.80 h4.40" stroke="#333" stroke-width="1.0" fill="none"/>
<text x="600.2" y="276.9" font-size="16.5" text-anchor="middle">ef</text>
<text x="609.9" y="199.0" font-size="16.5" text-anchor="middle">a</text>
<rect x="629.75" y="305.10" width="5.35" height="43.15" fill="#fff" stroke="#000" stroke-width="1.6"/>
<rect x="635.10" y="256.80" width="5.65" height="91.45" fill="none" stroke="#000" stroke-width="1.4"/>
<path d="M632.42,304.60 V305.60 M630.22,304.60 h4.40 M630.22,305.60 h4.40" stroke="#333" stroke-width="1.0" fill="none"/>
<path d="M637.92,252.30 V261.30 M635.72,252.30 h4.40 M635.72,261.30 h4.40" stroke="#333" stroke-width="1.0" fill="none"/>
<text x="631.1" y="298.6" font-size="16.5" text-anchor="middle">g</text>
<text x="638.9" y="248.8" font-size="16.5" text-anchor="middle">c</text>
<rect x="656.35" y="307.20" width="5.50" height="41.05" fill="#fff" stroke="#000" stroke-width="1.6"/>
<rect x="661.85" y="288.20" width="5.30" height="60.05" fill="none" stroke="#000" stroke-width="1.4"/>
<path d="M659.10,304.20 V310.20 M656.90,304.20 h4.40 M656.90,310.20 h4.40" stroke="#333" stroke-width="1.0" fill="none"/>
<path d="M664.50,285.70 V290.70 M662.30,285.70 h4.40 M662.30,290.70 h4.40" stroke="#333" stroke-width="1.0" fill="none"/>
<text x="657.0" y="298.9" font-size="16.5" text-anchor="middle">g</text>
<text x="663.9" y="281.9" font-size="16.5" text-anchor="middle">e</text>
<rect x="682.95" y="320.90" width="5.40" height="27.35" fill="#fff" stroke="#000" stroke-width="1.6"/>
<rect x="688.35" y="303.40" width="5.30" height="44.85" fill="none" stroke="#000" stroke-width="1.4"/>
<path d="M685.65,318.40 V323.40 M683.45,318.40 h4.40 M683.45,323.40 h4.40" stroke="#333" stroke-width="1.0" fill="none"/>
<path d="M691.00,296.90 V309.90 M688.80,296.90 h4.40 M688.80,309.90 h4.40" stroke="#333" stroke-width="1.0" fill="none"/>
<text x="682.9" y="315.9" font-size="16.5" text-anchor="middle">h</text>
<text x="692.0" y="292.7" font-size="16.5" text-anchor="middle">g</text>
<path d="M468.5,387.9 H462.5 V542.4499999999999" fill="none" stroke="#000" stroke-width="1.3"/>
<path d="M461.85,540.15 H695.8" fill="none" stroke="#000" stroke-width="1.3"/>
<path d="M462.5,418.4 h6" stroke="#000" stroke-width="1.3"/>
<path d="M462.5,448.8 h6" stroke="#000" stroke-width="1.3"/>
<path d="M462.5,481.2 h6" stroke="#000" stroke-width="1.3"/>
<path d="M462.5,514.2 h6" stroke="#000" stroke-width="1.3"/>
<text x="458.7" y="395.2" font-size="16.5" text-anchor="end" letter-spacing="0.6">2.5</text>
<text x="458.7" y="424.9" font-size="16.5" text-anchor="end" letter-spacing="0.6">2.0</text>
<text x="458.7" y="456.1" font-size="16.5" text-anchor="end" letter-spacing="0.6">1.5</text>
<text x="458.7" y="491.3" font-size="16.5" text-anchor="end" letter-spacing="0.6">1.0</text>
<text x="458.7" y="516.0" font-size="16.5" text-anchor="end" letter-spacing="0.6">0.5</text>
<text x="458.7" y="547.9" font-size="16.5" text-anchor="end" letter-spacing="0.6">0</text>
<text x="489.8" y="400" font-size="17.5">F</text>
<rect x="469.70" y="470.40" width="5.80" height="69.75" fill="#fff" stroke="#000" stroke-width="1.9"/>
<rect x="475.00" y="498.60" width="5.35" height="41.55" fill="none" stroke="#000" stroke-width="1.4"/>
<path d="M472.50,466.90 V473.90 M470.50,466.90 h4.00 M470.50,473.90 h4.00" stroke="#222" stroke-width="0.9" fill="none"/>
<path d="M477.68,493.60 V503.60 M475.68,493.60 h4.00 M475.68,503.60 h4.00" stroke="#222" stroke-width="0.9" fill="none"/>
<text x="472.5" y="464.4" font-size="16.5" text-anchor="middle">d</text>
<text x="479.3" y="490.1" font-size="16.5" text-anchor="middle">f</text>
<rect x="496.70" y="504.50" width="5.80" height="35.65" fill="#fff" stroke="#000" stroke-width="1.9"/>
<rect x="502.00" y="518.50" width="5.15" height="21.65" fill="none" stroke="#000" stroke-width="1.4"/>
<path d="M499.50,502.50 V506.50 M497.50,502.50 h4.00 M497.50,506.50 h4.00" stroke="#222" stroke-width="0.9" fill="none"/>
<text x="500.5" y="498.5" font-size="16.5" text-anchor="middle">f</text>
<text x="508.1" y="515.3" font-size="16.5" text-anchor="middle">h</text>
<rect x="523.90" y="505.90" width="5.35" height="34.25" fill="#fff" stroke="#000" stroke-width="1.9"/>
<rect x="528.75" y="517.60" width="4.90" height="22.55" fill="none" stroke="#000" stroke-width="1.4"/>
<path d="M526.48,503.90 V507.90 M524.48,503.90 h4.00 M524.48,507.90 h4.00" stroke="#222" stroke-width="0.9" fill="none"/>
<text x="525.1" y="497.1" font-size="16.5" text-anchor="middle">fg</text>
<text x="534.9" y="511.9" font-size="16.5" text-anchor="middle">h</text>
<rect x="550.60" y="494.80" width="5.75" height="45.35" fill="#fff" stroke="#000" stroke-width="1.9"/>
<rect x="555.85" y="513.20" width="5.30" height="26.95" fill="none" stroke="#000" stroke-width="1.4"/>
<path d="M553.38,494.30 V495.30 M551.38,494.30 h4.00 M551.38,495.30 h4.00" stroke="#222" stroke-width="0.9" fill="none"/>
<path d="M558.50,512.70 V513.70 M556.50,512.70 h4.00 M556.50,513.70 h4.00" stroke="#222" stroke-width="0.9" fill="none"/>
<text x="554.2" y="489.2" font-size="16.5" text-anchor="middle">ef</text>
<text x="565.5" y="506.9" font-size="16.5" text-anchor="middle">gh</text>
<rect x="577.60" y="486.10" width="5.90" height="54.05" fill="#fff" stroke="#000" stroke-width="1.9"/>
<rect x="583.00" y="498.60" width="5.15" height="41.55" fill="none" stroke="#000" stroke-width="1.4"/>
<path d="M580.45,483.10 V489.10 M578.45,483.10 h4.00 M578.45,489.10 h4.00" stroke="#222" stroke-width="0.9" fill="none"/>
<path d="M585.58,494.60 V502.60 M583.58,494.60 h4.00 M583.58,502.60 h4.00" stroke="#222" stroke-width="0.9" fill="none"/>
<text x="580.5" y="479.1" font-size="16.5" text-anchor="middle">e</text>
<text x="586.6" y="492.1" font-size="16.5" text-anchor="middle">f</text>
<rect x="604.70" y="476.20" width="5.15" height="63.95" fill="#fff" stroke="#000" stroke-width="1.9"/>
<rect x="609.35" y="525.60" width="5.00" height="14.55" fill="none" stroke="#000" stroke-width="1.4"/>
<path d="M607.17,469.20 V483.20 M605.17,469.20 h4.00 M605.17,483.20 h4.00" stroke="#222" stroke-width="0.9" fill="none"/>
<text x="606.2" y="466.7" font-size="16.5" text-anchor="middle">d</text>
<text x="615.8" y="519.8" font-size="16.5" text-anchor="middle">h</text>
<rect x="631.60" y="434.00" width="5.25" height="106.15" fill="#fff" stroke="#000" stroke-width="1.9"/>
<rect x="636.35" y="522.15" width="5.25" height="18.00" fill="none" stroke="#000" stroke-width="1.4"/>
<path d="M634.12,433.50 V434.50 M632.12,433.50 h4.00 M632.12,434.50 h4.00" stroke="#222" stroke-width="0.9" fill="none"/>
<text x="634.9" y="431.0" font-size="16.5" text-anchor="middle">b</text>
<text x="642.7" y="517.5" font-size="16.5" text-anchor="middle">h</text>
<rect x="658.45" y="446.80" width="5.40" height="93.35" fill="#fff" stroke="#000" stroke-width="1.9"/>
<rect x="663.35" y="517.60" width="5.05" height="22.55" fill="none" stroke="#000" stroke-width="1.4"/>
<path d="M661.05,437.80 V455.80 M659.05,437.80 h4.00 M659.05,455.80 h4.00" stroke="#222" stroke-width="0.9" fill="none"/>
<path d="M665.88,517.10 V518.10 M663.88,517.10 h4.00 M663.88,518.10 h4.00" stroke="#222" stroke-width="0.9" fill="none"/>
<text x="661.0" y="435.3" font-size="16.5" text-anchor="middle">c</text>
<text x="669.9" y="511.6" font-size="16.5" text-anchor="middle">h</text>
<rect x="685.60" y="422.90" width="5.40" height="117.25" fill="#fff" stroke="#000" stroke-width="1.9"/>
<rect x="690.50" y="511.70" width="4.65" height="28.45" fill="none" stroke="#000" stroke-width="1.4"/>
<path d="M688.20,417.90 V427.90 M686.20,417.90 h4.00 M686.20,427.90 h4.00" stroke="#222" stroke-width="0.9" fill="none"/>
<path d="M692.83,505.70 V517.70 M690.83,505.70 h4.00 M690.83,517.70 h4.00" stroke="#222" stroke-width="0.9" fill="none"/>
<text x="689.4" y="415.4" font-size="16.5" text-anchor="middle">a</text>
<text x="695.3" y="498.9" font-size="16.5" text-anchor="middle">g</text>
<text x="75.4" y="557.6" font-size="16" text-anchor="middle" >ck</text>
<text x="111.1" y="557.6" font-size="16.5" textLength="11.6" lengthAdjust="spacingAndGlyphs">−</text>
<text x="124.4" y="557.6" font-size="16.5" letter-spacing="0.6">2</text>
<text x="160" y="557.6" font-size="16.5" textLength="11.6" lengthAdjust="spacingAndGlyphs">−</text>
<text x="173.7" y="557.6" font-size="16.5" letter-spacing="0.6">5</text>
<text x="208.9" y="557.6" font-size="16.5" textLength="11.6" lengthAdjust="spacingAndGlyphs">−</text>
<text x="222.7" y="557.6" font-size="16.5" letter-spacing="0.6">8</text>
<text x="256.1" y="557.6" font-size="16.5" textLength="11.6" lengthAdjust="spacingAndGlyphs">−</text>
<text x="269.6" y="557.6" font-size="16.5" letter-spacing="0.6">11</text>
<text x="158.6" y="575.4" font-size="16.5" font-style="italic" textLength="9.8" lengthAdjust="spacingAndGlyphs">T</text>
<text transform="translate(169.8,575.4) skewX(-14)" font-size="16.5">/</text>
<text x="176.4" y="575.4" font-size="14" style="font-family:'DejaVu Serif','Liberation Serif',serif" textLength="13.8" lengthAdjust="spacingAndGlyphs">℃</text>
<text x="476.1" y="558.7" font-size="16" text-anchor="middle" >ck</text>
<text x="504.3" y="558.6" font-size="16.5" text-anchor="middle" letter-spacing="0.6">1</text>
<text x="531.5999999999999" y="558.6" font-size="16.5" text-anchor="middle" letter-spacing="0.6">2</text>
<text x="557.0999999999999" y="558.6" font-size="16.5" text-anchor="middle" letter-spacing="0.6">5</text>
<text x="584.0999999999999" y="558.6" font-size="16.5" text-anchor="middle" letter-spacing="0.6">8</text>
<text x="611.1999999999999" y="558.6" font-size="16.5" text-anchor="middle" letter-spacing="0.6">16</text>
<text x="637.5999999999999" y="558.6" font-size="16.5" text-anchor="middle" letter-spacing="0.6">24</text>
<text x="664.0999999999999" y="558.6" font-size="16.5" text-anchor="middle" letter-spacing="0.6">48</text>
<text x="691.0999999999999" y="558.6" font-size="16.5" text-anchor="middle" letter-spacing="0.6">72</text>
<text x="575.5" y="575.3" font-size="16.5" font-style="italic">t</text>
<text transform="translate(579.7,575.3) skewX(-11)" font-size="16.5">/</text>
<text x="586.0" y="575.3" font-size="16.5">h</text>
<g transform="translate(14.3,140.2) rotate(-90)" font-size="17"><text x="-0.5" y="0" font-style="italic">b</text><text x="9.8" y="4.0" font-size="9.8" textLength="14.6" lengthAdjust="spacingAndGlyphs" stroke-width="0.1">GSH</text><text x="0" y="0" transform="translate(24.6,0) skewX(-14)">/</text><text x="30.6" y="0">(</text><text x="40.2" y="0" textLength="8.6" lengthAdjust="spacingAndGlyphs">μ</text><text x="52.8" y="0" textLength="27.2" lengthAdjust="spacingAndGlyphs">mol</text><text x="81.4" y="5.8" font-size="28">·</text><text x="92.2" y="0" textLength="9.8" lengthAdjust="spacingAndGlyphs">L</text><text x="102.3" y="-7.8" font-size="12">−</text><text x="109.8" y="-7.0" font-size="7.5">1</text><text x="114.7" y="0">)</text></g>
<g transform="translate(14.3,340.2) rotate(-90)" font-size="17"><text x="-0.5" y="0" font-style="italic">b</text><text x="9.8" y="4.0" font-size="9.8" textLength="19.3" lengthAdjust="spacingAndGlyphs" stroke-width="0.1">GSSG</text><text x="0" y="0" transform="translate(29.6,0) skewX(-14)">/</text><text x="35.6" y="0">(</text><text x="45.2" y="0" textLength="8.6" lengthAdjust="spacingAndGlyphs">μ</text><text x="57.8" y="0" textLength="27.2" lengthAdjust="spacingAndGlyphs">mol</text><text x="86.4" y="5.8" font-size="28">·</text><text x="97.2" y="0" textLength="9.8" lengthAdjust="spacingAndGlyphs">L</text><text x="107.3" y="-7.8" font-size="12">−</text><text x="114.8" y="-7.0" font-size="7.5">1</text><text x="119.7" y="0">)</text></g>
<g transform="translate(423.9,146.9) rotate(-90)" font-size="17"><text x="-0.5" y="0" font-style="italic">b</text><text x="9.8" y="4.0" font-size="9.8" textLength="14.6" lengthAdjust="spacingAndGlyphs" stroke-width="0.1">GSH</text><text x="0" y="0" transform="translate(24.6,0) skewX(-14)">/</text><text x="30.6" y="0">(</text><text x="40.2" y="0" textLength="8.6" lengthAdjust="spacingAndGlyphs">μ</text><text x="52.8" y="0" textLength="27.2" lengthAdjust="spacingAndGlyphs">mol</text><text x="81.4" y="5.8" font-size="28">·</text><text x="92.2" y="0" textLength="9.8" lengthAdjust="spacingAndGlyphs">L</text><text x="102.3" y="-7.8" font-size="12">−</text><text x="109.8" y="-7.0" font-size="7.5">1</text><text x="114.7" y="0">)</text></g>
<g transform="translate(423.6,339.6) rotate(-90)" font-size="17"><text x="-0.5" y="0" font-style="italic">b</text><text x="9.8" y="4.0" font-size="9.8" textLength="19.3" lengthAdjust="spacingAndGlyphs" stroke-width="0.1">GSSG</text><text x="0" y="0" transform="translate(29.6,0) skewX(-14)">/</text><text x="35.6" y="0">(</text><text x="45.2" y="0" textLength="8.6" lengthAdjust="spacingAndGlyphs">μ</text><text x="57.8" y="0" textLength="27.2" lengthAdjust="spacingAndGlyphs">mol</text><text x="86.4" y="5.8" font-size="28">·</text><text x="97.2" y="0" textLength="9.8" lengthAdjust="spacingAndGlyphs">L</text><text x="107.3" y="-7.8" font-size="12">−</text><text x="114.8" y="-7.0" font-size="7.5">1</text><text x="119.7" y="0">)</text></g>
<g transform="translate(32.7,509.2) rotate(-90)" font-size="17.5"><text x="-0.5" y="0" textLength="33.6" lengthAdjust="spacingAndGlyphs">GSH</text><text x="0" y="0" transform="translate(35.8,0) skewX(-14)">/</text><text x="44.4" y="0" textLength="43" lengthAdjust="spacingAndGlyphs">GSSG</text></g>
<g transform="translate(424.8,507.5) rotate(-90)" font-size="17.5"><text x="-0.5" y="0" textLength="33.6" lengthAdjust="spacingAndGlyphs">GSH</text><text x="0" y="0" transform="translate(35.8,0) skewX(-14)">/</text><text x="44.4" y="0" textLength="43" lengthAdjust="spacingAndGlyphs">GSSG</text></g>
<rect x="296.0" y="589.6" width="7.8" height="9.9" fill="#fff" stroke="#000" stroke-width="1.3"/>
<text x="315.3" y="599.8" font-size="16" textLength="28.6" lengthAdjust="spacing">ZS7</text>
<rect x="390.6" y="589.9" width="7.4" height="9.4" fill="none" stroke="#000" stroke-width="1.3"/>
<text x="410.3" y="599.8" font-size="16" textLength="31.8" lengthAdjust="spacing">HN1</text>
</svg>
</body></html>
